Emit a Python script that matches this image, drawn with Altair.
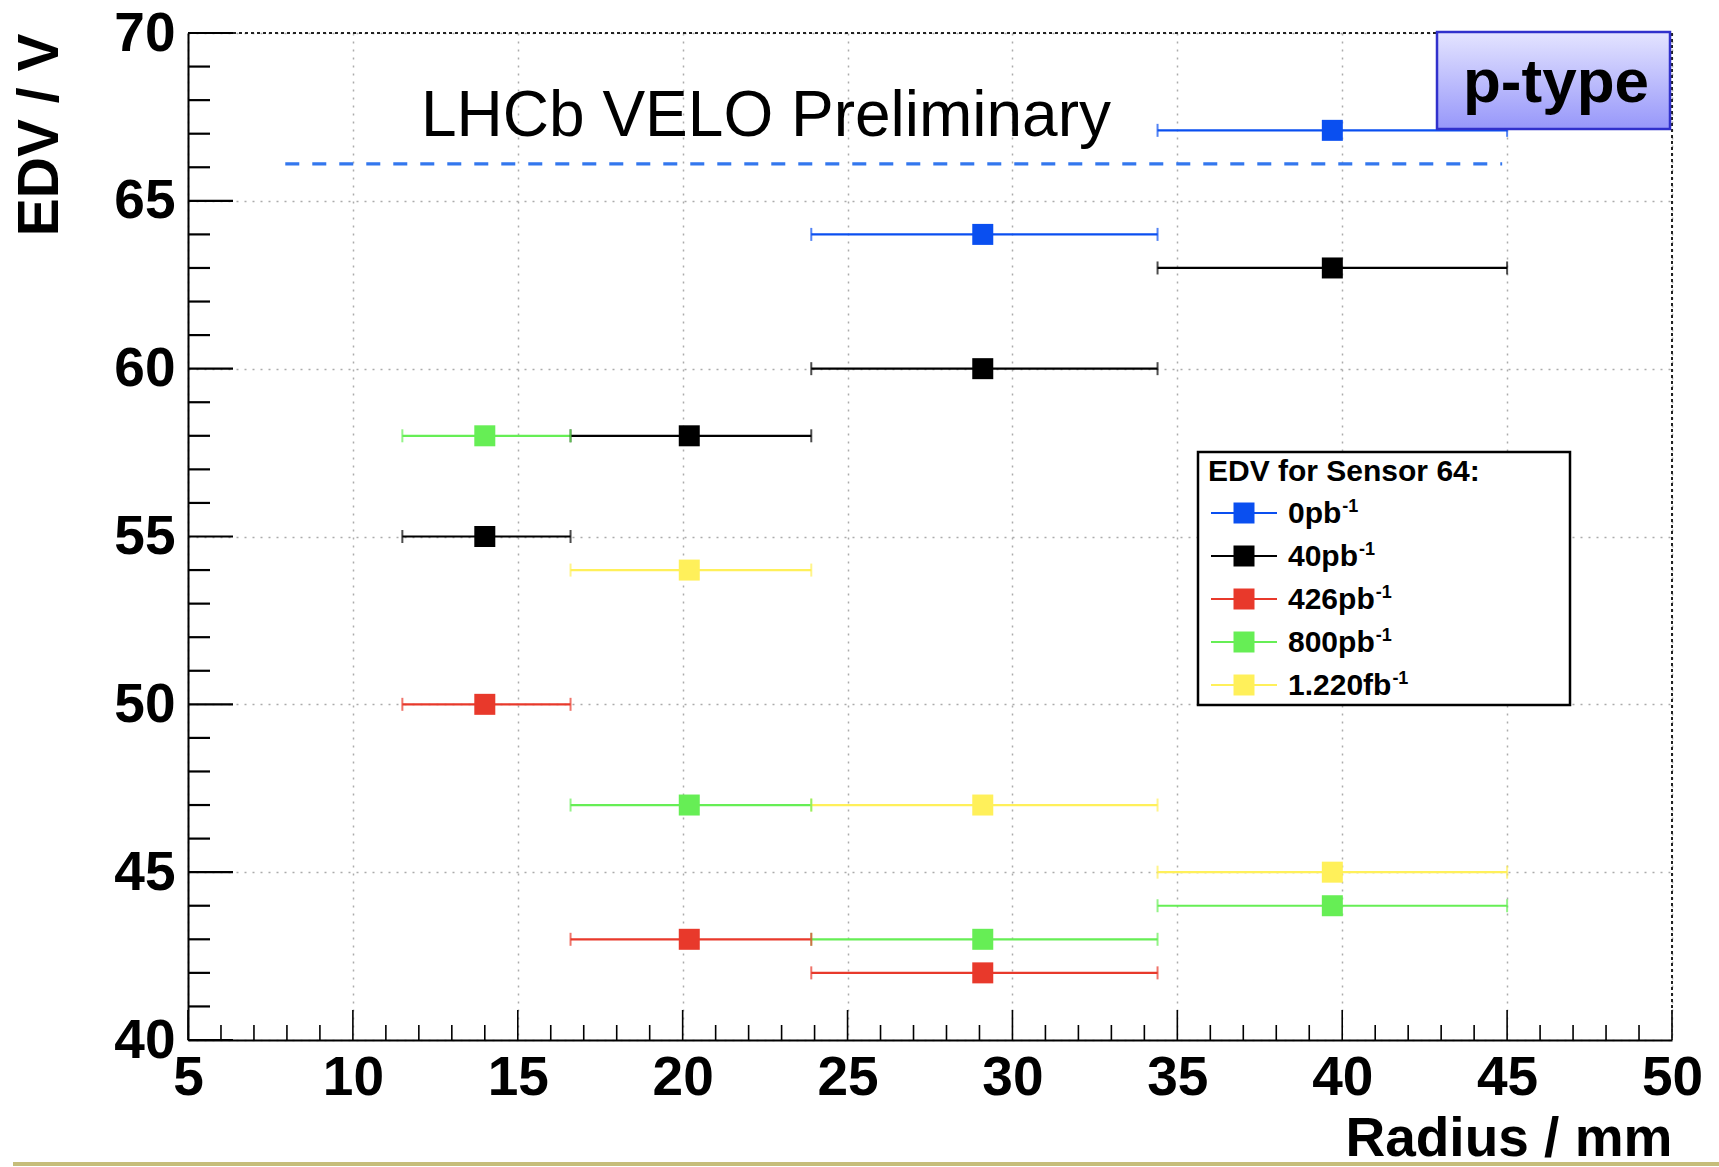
import altair as alt
import pandas as pd

# ---------------- data ----------------
series_names = ["0pb", "40pb", "426pb", "800pb", "1.220fb"]
series_colors = ["#0a4ff0", "#000000", "#e8392b", "#66ee55", "#fff05a"]
bin_lo = [11.5, 16.6, 23.9, 34.4]
bin_hi = [16.6, 23.9, 34.4, 45.0]
bin_center = [14.0, 20.2, 29.1, 39.7]
edv_0pb = [None, None, 64, 67.1]
edv_40pb = [55, 58, 60, 63]
edv_426pb = [50, 43, 42, None]
edv_800pb = [58, 47, 43, 44]
edv_1220fb = [None, 54, 47, 45]
ref_line_x = [7.95, 44.85]
ref_line_y = 66.1
x_major = [5, 10, 15, 20, 25, 30, 35, 40, 45, 50]
y_major = [40, 45, 50, 55, 60, 65, 70]
x_minor = [v for v in range(5, 51) if v % 5 != 0]
y_minor = [v for v in range(40, 71) if v % 5 != 0]

all_edv = [edv_0pb, edv_40pb, edv_426pb, edv_800pb, edv_1220fb]
rows = []
for name, vals in zip(series_names, all_edv):
    for lo, hi, c, v in zip(bin_lo, bin_hi, bin_center, vals):
        if v is not None:
            rows.append({"series": name, "x": c, "xlo": lo, "xhi": hi, "edv": v})
df = pd.DataFrame(rows)

# ---------------- layout ----------------
W, H = 1484, 1007
FONT = "Liberation Sans"
color_scale = alt.Scale(domain=series_names, range=series_colors)
x_scale = alt.Scale(domain=[5, 50], nice=False, zero=False)
y_scale = alt.Scale(domain=[40, 70], nice=False, zero=False)
x_axis = alt.Axis(values=x_major, format="d", labelFont=FONT, labelFontSize=55,
                  labelFontWeight="bold", labelColor="black", labelPadding=11,
                  labelOverlap=False, labelFlush=False, ticks=False, tickSize=0,
                  domainColor="black", domainWidth=2, grid=True, gridDash=[2, 6],
                  gridColor="#ababab", gridWidth=1.5,
                  titleFont=FONT, titleFontSize=55, titleFontWeight="bold",
                  titleColor="black", titleAlign="right", titleAnchor="end",
                  titleX=W, titleY=115, titleBaseline="alphabetic")
y_axis = alt.Axis(values=y_major, format="d", labelFont=FONT, labelFontSize=55,
                  labelFontWeight="bold", labelColor="black", labelPadding=13,
                  labelOverlap=False, labelFlush=False, ticks=False, tickSize=0,
                  domainColor="black", domainWidth=2, grid=True, gridDash=[2, 6],
                  gridColor="#ababab", gridWidth=1.5,
                  titleFont=FONT, titleFontSize=57, titleFontWeight="bold",
                  titleColor="black", titleAngle=270, titleAlign="right",
                  titleAnchor="end", titleX=-148, titleY=0, titleBaseline="middle")


def X(f):
    return alt.X(f, type="quantitative", scale=x_scale, axis=x_axis, title="Radius / mm")


def Y(f):
    return alt.Y(f, type="quantitative", scale=y_scale, axis=y_axis, title="EDV / V")


base = alt.Chart(df)
color = alt.Color("series:N", scale=color_scale, legend=None)

bars = base.mark_rule(strokeWidth=2.2).encode(x=X("xlo"), x2="xhi", y=Y("edv"), color=color)
cap_lo = base.mark_tick(orient="vertical", size=13, thickness=2).encode(x=X("xlo"), y=Y("edv"), color=color)
cap_hi = base.mark_tick(orient="vertical", size=13, thickness=2).encode(x=X("xhi"), y=Y("edv"), color=color)
points = base.mark_square(size=441, opacity=1, filled=True).encode(x=X("x"), y=Y("edv"), color=color)

ref_df = pd.DataFrame({"x0": [ref_line_x[0]], "x1": [ref_line_x[1]], "y": [ref_line_y]})
ref_line = alt.Chart(ref_df).mark_rule(color="#3377ee", strokeWidth=3.2, strokeDash=[14, 13]).encode(
    x=X("x0"), x2="x1", y=Y("y"))

# inward ticks
xt_major = alt.Chart(pd.DataFrame({"v": x_major})).mark_rule(color="black", strokeWidth=1.6).encode(
    x=X("v"), y=alt.value(H), y2=alt.value(H - 30))
xt_minor = alt.Chart(pd.DataFrame({"v": x_minor})).mark_rule(color="black", strokeWidth=1.6).encode(
    x=X("v"), y=alt.value(H), y2=alt.value(H - 15))
yt_major = alt.Chart(pd.DataFrame({"v": y_major})).mark_rule(color="black", strokeWidth=2.2).encode(
    y=Y("v"), x=alt.value(0), x2=alt.value(45))
yt_minor = alt.Chart(pd.DataFrame({"v": y_minor})).mark_rule(color="black", strokeWidth=2.2).encode(
    y=Y("v"), x=alt.value(0), x2=alt.value(22))

one = pd.DataFrame({"label": [""]})
top_border = alt.Chart(one).mark_rule(color="#222222", strokeWidth=2, strokeDash=[3, 3]).encode(
    x=alt.value(45), x2=alt.value(W), y=alt.value(0))
right_border = alt.Chart(one).mark_rule(color="#222222", strokeWidth=2, strokeDash=[3, 3]).encode(
    x=alt.value(W), y=alt.value(0), y2=alt.value(H))

# annotation text
prelim = alt.Chart(pd.DataFrame({"label": ["LHCb VELO Preliminary"]})).mark_text(
    font=FONT, fontSize=64, align="center", baseline="alphabetic", color="black").encode(
    x=alt.value(578), y=alt.value(103), text="label:N")

ptype_box = alt.Chart(one).mark_rect(
    fill=alt.Gradient(gradient="linear",
                      stops=[alt.GradientStop(color="#e4e4ff", offset=0),
                             alt.GradientStop(color="#9797fa", offset=1)],
                      x1=0, x2=0, y1=0, y2=1),
    stroke="#3030cc", strokeWidth=2.5).encode(
    x=alt.value(1249), x2=alt.value(1482), y=alt.value(-1), y2=alt.value(96))
ptype_text = alt.Chart(pd.DataFrame({"label": ["p-type"]})).mark_text(
    font=FONT, fontSize=62, fontWeight="bold", align="center", baseline="alphabetic",
    color="black").encode(x=alt.value(1368), y=alt.value(69), text="label:N")

# legend (drawn by hand to match the ROOT-style box)
LX0, LX1, LY0, LY1 = 1010, 1382, 419, 672
leg_box = alt.Chart(one).mark_rect(fill="white", stroke="black", strokeWidth=2.5).encode(
    x=alt.value(LX0), x2=alt.value(LX1), y=alt.value(LY0), y2=alt.value(LY1))
leg_title = alt.Chart(pd.DataFrame({"label": ["EDV for Sensor 64:"]})).mark_text(
    font=FONT, fontSize=30, fontWeight="bold", align="left", baseline="alphabetic",
    color="black").encode(x=alt.value(1020), y=alt.value(448), text="label:N")

char_w = {".": 0.278, "p": 0.611, "b": 0.611, "f": 0.333}
LFS = 30
legend_layers = [leg_box, leg_title]
for i, (name, col) in enumerate(zip(series_names, series_colors)):
    cy = 480 + i * 43
    d = pd.DataFrame({"label": [name]})
    legend_layers.append(alt.Chart(d).mark_rule(color=col, strokeWidth=2.2).encode(
        x=alt.value(1023), x2=alt.value(1089), y=alt.value(cy)))
    legend_layers.append(alt.Chart(d).mark_square(color=col, size=441, opacity=1, filled=True).encode(
        x=alt.value(1056), y=alt.value(cy)))
    legend_layers.append(alt.Chart(d).mark_text(
        font=FONT, fontSize=LFS, fontWeight="bold", align="left", baseline="alphabetic",
        color="black").encode(x=alt.value(1100), y=alt.value(cy + 10), text="label:N"))
    wid = sum(char_w.get(ch, 0.556) for ch in name) * LFS
    legend_layers.append(alt.Chart(pd.DataFrame({"label": ["-1"]})).mark_text(
        font=FONT, fontSize=18, fontWeight="bold", align="left", baseline="alphabetic",
        color="black").encode(x=alt.value(1100 + wid + 1), y=alt.value(cy - 1), text="label:N"))

gold = alt.Chart(one).mark_rule(color="#c6bd7a", strokeWidth=4).encode(
    x=alt.value(-175), x2=alt.value(1719 - 188), y=alt.value(1131))

chart = alt.layer(
    ref_line, bars, cap_lo, cap_hi, points,
    xt_major, xt_minor, yt_major, yt_minor, top_border, right_border,
    prelim, ptype_box, ptype_text, *legend_layers, gold
).properties(
    width=W, height=H,
    autosize=alt.AutoSizeParams(type="none"),
    padding={"left": 188, "top": 33, "right": 1719 - 188 - W, "bottom": 1167 - 33 - H},
    background="white",
).configure_view(stroke=None)

chart.save("out.html", embed_options={"renderer": "svg", "actions": False})
